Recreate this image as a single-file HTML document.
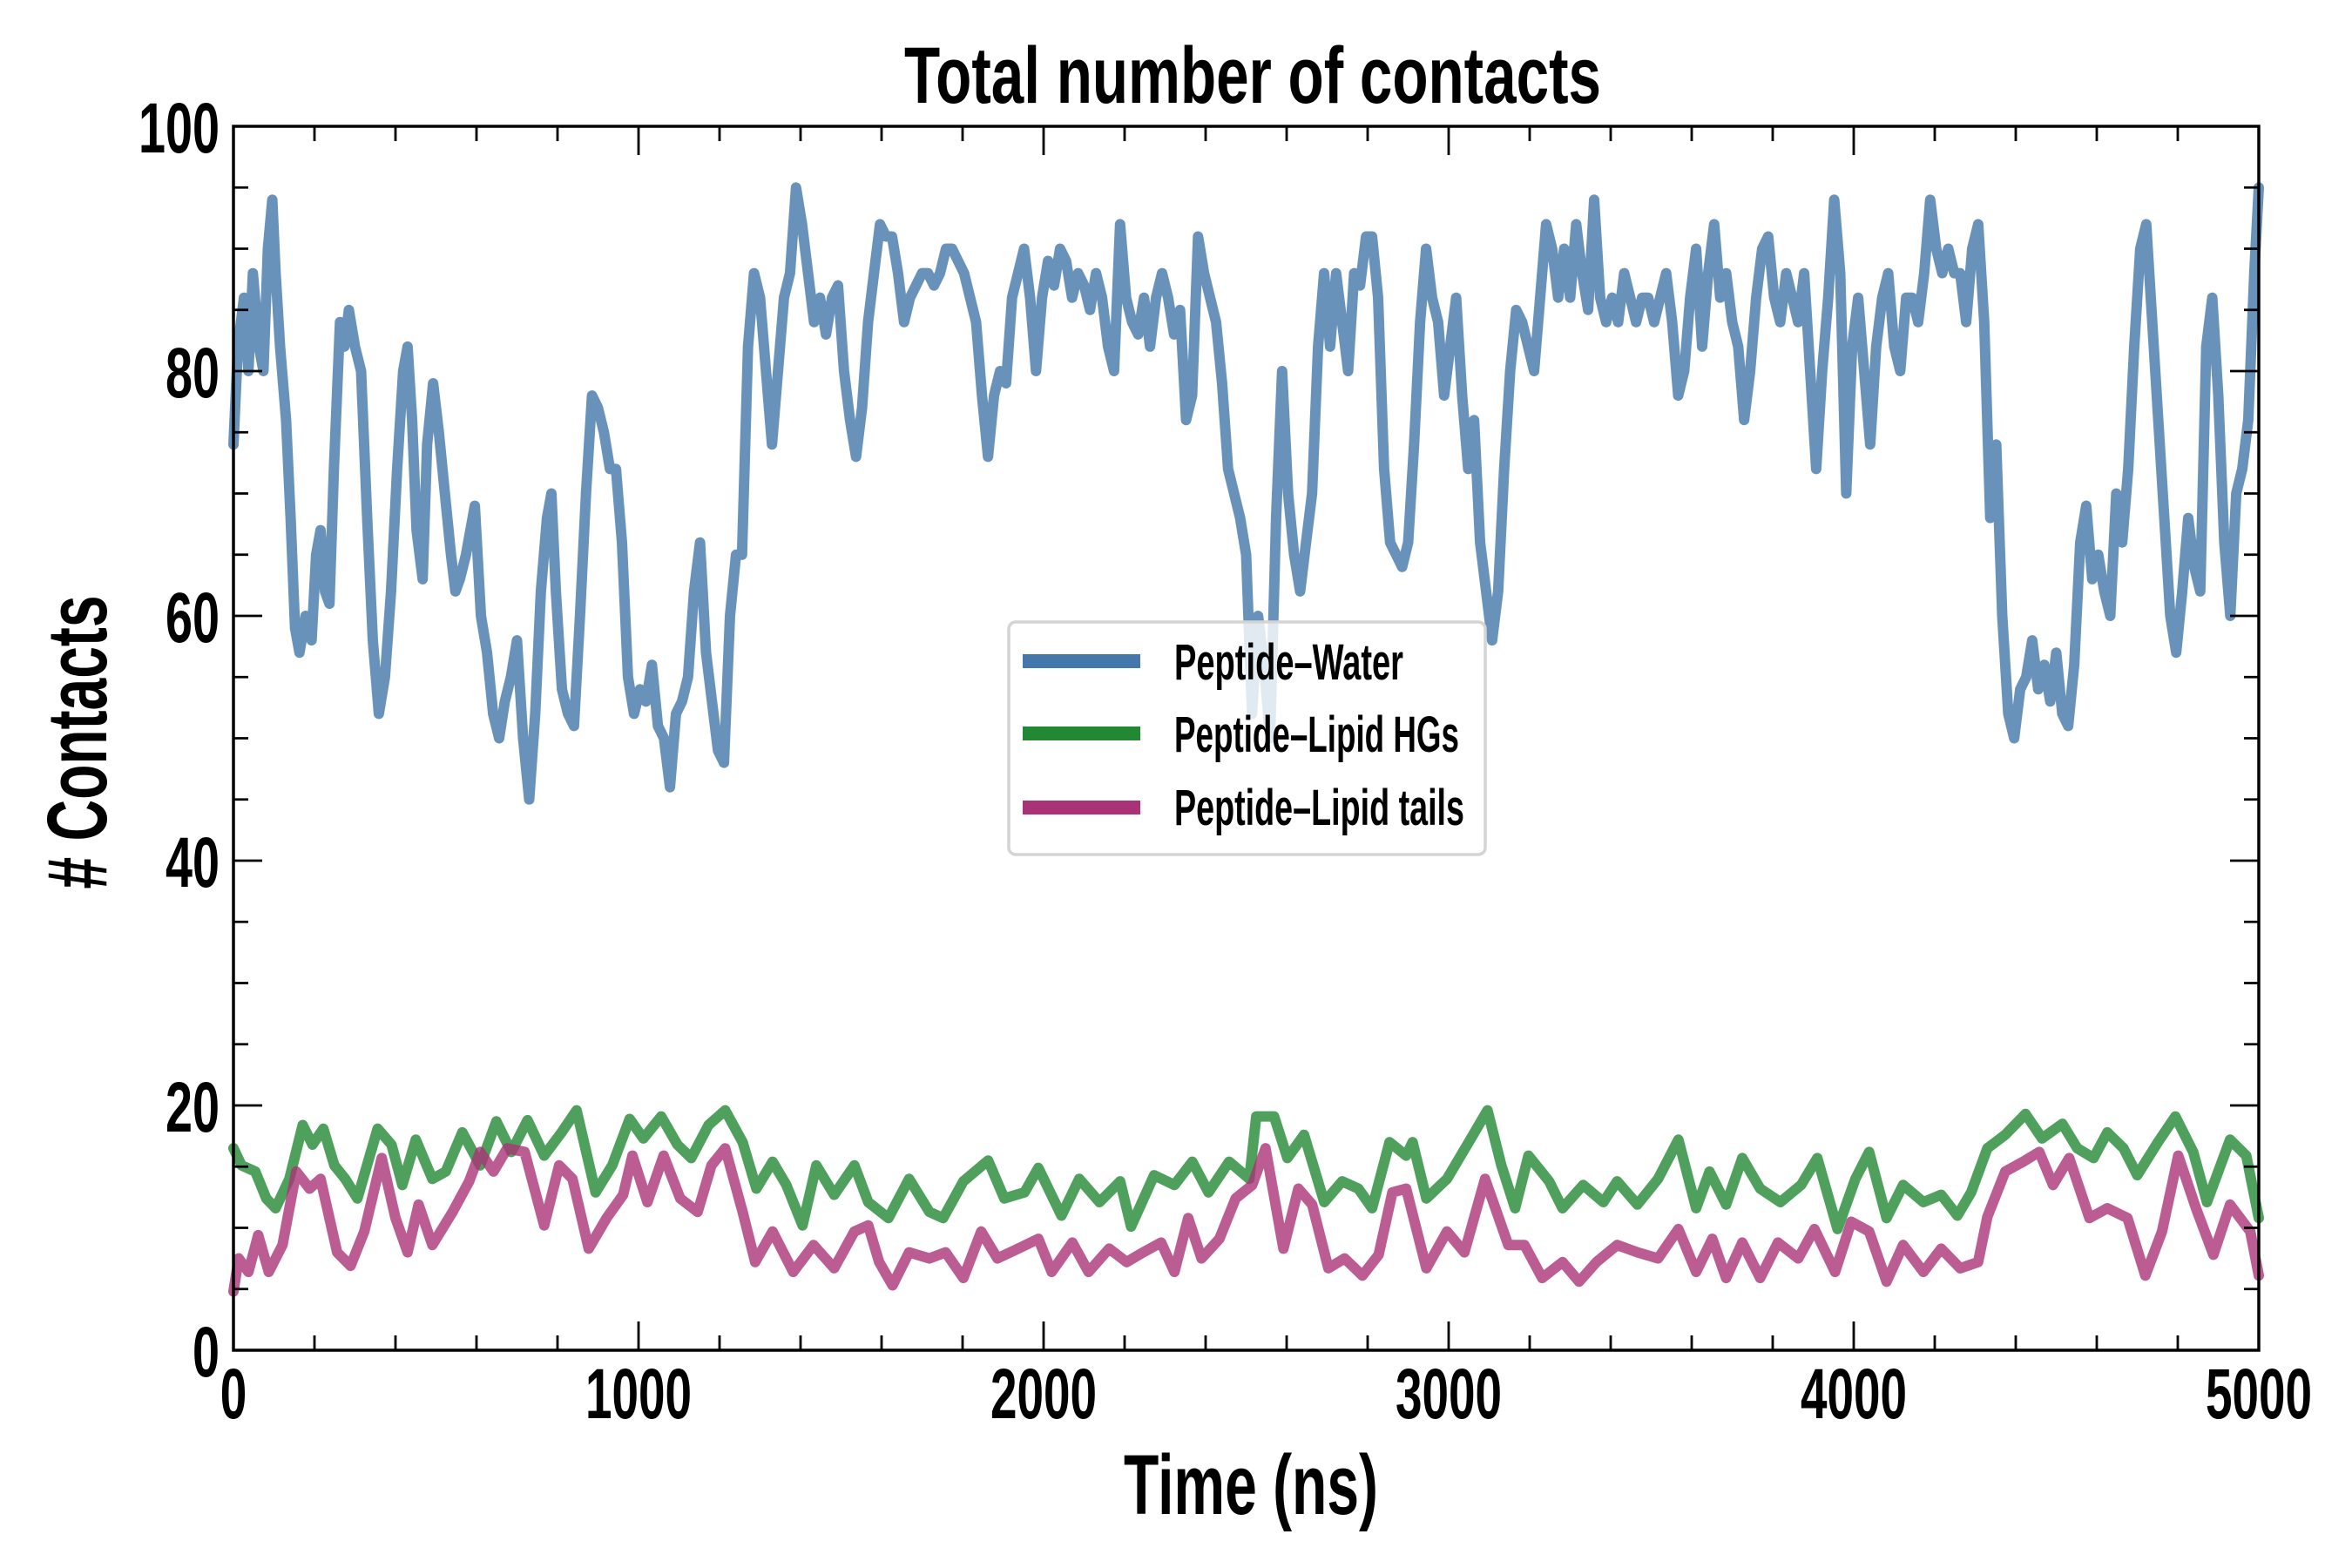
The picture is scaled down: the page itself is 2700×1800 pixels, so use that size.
<!DOCTYPE html>
<html><head><meta charset="utf-8"><style>
html,body{margin:0;padding:0;background:#fff;}
svg{display:block;}
text{font-family:"Liberation Sans",sans-serif;font-weight:bold;fill:#000;}
</style></head>
<body>
<svg id="chart" width="2700" height="1800" viewBox="0 0 2700 1800" xmlns="http://www.w3.org/2000/svg">
<rect x="0" y="0" width="2700" height="1800" fill="#fff"/>
<g id="series"></g>
<g id="ticks"></g>
<rect x="268" y="145" width="2325" height="1405" fill="none" stroke="#000" stroke-width="3.5"/>
<text x="1438" y="118" font-size="92" text-anchor="middle" textLength="800" lengthAdjust="spacingAndGlyphs">Total number of contacts</text>
<text x="1436" y="1738" font-size="97" text-anchor="middle" textLength="292" lengthAdjust="spacingAndGlyphs">Time (ns)</text>
<text x="0" y="0" font-size="97" text-anchor="middle" textLength="337" lengthAdjust="spacingAndGlyphs" transform="translate(122,852) rotate(-90)"># Contacts</text>
<g id="legend">
<rect x="1158" y="714" width="547" height="267" rx="8" fill="#fff" fill-opacity="0.8" stroke="#d4d4d4" stroke-width="3.5"/>
<line x1="1174" y1="759" x2="1309" y2="759" stroke="#4477aa" stroke-width="16"/>
<text x="1348" y="780" font-size="58" textLength="263" lengthAdjust="spacingAndGlyphs">Peptide–Water</text>
<line x1="1174" y1="842" x2="1309" y2="842" stroke="#228833" stroke-width="16"/>
<text x="1348" y="863" font-size="58" textLength="327" lengthAdjust="spacingAndGlyphs">Peptide–Lipid HGs</text>
<line x1="1174" y1="927" x2="1309" y2="927" stroke="#aa3377" stroke-width="16"/>
<text x="1348" y="947" font-size="58" textLength="333" lengthAdjust="spacingAndGlyphs">Peptide–Lipid tails</text>
</g>
</svg>
<script>
const xTickValues = [0, 1000, 2000, 3000, 4000, 5000];
const xTickLabels = ["0", "1000", "2000", "3000", "4000", "5000"];
const yTickValues = [0, 20, 40, 60, 80, 100];
const yTickLabels = ["0", "20", "40", "60", "80", "100"];

const waterStartTimes = [0,11,26,37,48,63,74,85,96,104,115,130,141,152,163,178,193,204,215,226,237,248,263,274,285,300,315,330,344,359,374,389,404,419,430,441,452,467,478,493,507,522,537,548,559,574,585,596,611,626,641,656,670,685,700,715,730,745,759,774,785,796,811];
const waterValues = [74,82,86,80,88,82,80,90,94,88,82,76,68,59,57,60,58,65,67,62,61,72,84,82,85,82,80,68,58,52,55,62,72,80,82,76,67,63,74,79,75,70,65,62,63,65,67,69,60,57,52,50,53,55,58,50,45,52,62,68,70,62,54,52,51,60,70,78,77,75,72,72,66,55,52,54,53,56,51,50,46,52,53,55,62,66,57,53,49,48,60,65,65,82,88,86,80,74,80,86,88,95,92,88,84,86,83,86,87,80,76,73,77,84,88,92,91,91,88,84,86,87,88,88,87,88,90,90,89,88,86,84,78,73,78,80,79,86,88,90,86,80,86,89,87,90,89,86,88,87,85,88,86,82,80,92,86,84,83,86,82,86,88,86,83,85,76,78,91,88,86,84,79,72,70,68,65,52,60,56,50,68,80,70,65,62,66,70,82,88,82,88,84,80,88,87,91,91,86,72,66,65,64,66,74,84,90,86,84,78,82,86,78,72,76,66,62,58,62,72,80,85,84,82,80,86,92,90,86,90,86,92,88,85,94,86,84,86,84,88,86,84,86,86,84,86,88,84,78,80,86,90,82,88,92,86,88,84,82,76,80,86,90,91,86,84,88,86,84,88,80,72,80,86,94,88,70,82,86,80,74,82,86,88,82,80,86,86,84,88,94,90,88,90,88,88,84,90,92,84,68,74,60,52,50,54,55,58,54,56,53,57,52,51,56,66,69,63,65,62,60,70,66,72,82,90,92,84,76,68,60,57,62,68,64,62,82,86,78,66,60,70,72,76,88,95];

const hgTimes = [0,20,54,81,104,138,171,195,222,249,276,306,356,390,417,450,491,524,565,609,649,686,726,767,810,847,894,935,978,1012,1056,1096,1130,1173,1214,1257,1291,1331,1365,1405,1439,1483,1533,1567,1617,1668,1718,1752,1802,1863,1903,1953,1987,2044,2088,2138,2189,2216,2273,2323,2367,2407,2458,2508,2525,2569,2602,2643,2693,2737,2777,2811,2854,2895,2911,2945,2996,3046,3096,3130,3164,3197,3248,3281,3332,3382,3416,3466,3517,3567,3611,3644,3685,3725,3769,3819,3870,3910,3960,4004,4038,4081,4122,4172,4216,4256,4290,4330,4374,4424,4465,4515,4552,4592,4626,4666,4700,4751,4794,4838,4872,4929,4969,5000];
const hgValues = [16.5,15.1,14.6,12.4,11.6,14,18.4,16.8,18.1,15.1,14,12.4,18.1,16.8,13.5,17.2,14,14.6,17.8,15.1,18.7,16.2,18.8,15.9,17.8,19.6,12.9,15.1,18.9,17.3,19.1,16.8,15.7,18.4,19.6,17,13.2,15.4,13.5,10.2,15.1,12.7,15.1,12.1,10.8,14,11.3,10.8,13.8,15.5,12.4,12.9,14.9,11,14,12.1,13.8,10.1,14.3,13.5,15.4,12.9,15.4,14,19.1,19.1,15.7,17.6,12.1,13.8,13.2,11.6,17,15.9,17,12.4,14,16.8,19.6,15.1,11.6,15.9,13.8,11.6,13.5,12.1,13.8,11.9,14,17.2,11.6,14.6,11.9,15.7,13.2,12.1,13.5,15.7,9.9,14,16.2,10.8,13.5,12.1,12.7,11,12.9,16.5,17.6,19.3,17.3,18.5,16.5,15.7,17.8,16.5,14.3,17,19.1,16.2,12.1,17.2,15.9,10.8];

const tailTimes = [0,13,37,61,87,121,155,188,215,256,289,323,366,400,430,457,491,541,582,609,642,676,719,767,804,837,877,921,962,985,1022,1062,1103,1146,1180,1214,1257,1288,1331,1382,1432,1483,1533,1567,1594,1627,1668,1718,1758,1802,1846,1886,1937,1987,2020,2071,2111,2162,2205,2246,2290,2323,2357,2390,2434,2474,2515,2548,2592,2629,2663,2703,2743,2787,2827,2861,2895,2945,2996,3039,3090,3147,3187,3231,3281,3322,3365,3416,3466,3517,3567,3611,3651,3685,3725,3769,3813,3863,3903,3954,3994,4038,4081,4122,4172,4216,4263,4307,4330,4374,4418,4458,4492,4532,4582,4626,4676,4720,4761,4801,4845,4888,4929,4979,5000];
const tailValues = [4.8,7.5,6.4,9.4,6.4,8.6,14.6,13.2,14,8,6.9,9.7,15.7,10.8,8,11.9,8.6,11.3,13.8,16.2,14.6,16.5,16.2,10.2,15.1,14,8.3,10.8,12.7,15.9,12.1,15.9,12.4,11.3,15.1,16.5,11.3,7.2,9.7,6.4,8.6,6.7,9.7,10.2,7.2,5.3,8,7.5,8,5.9,9.7,7.5,8.3,9.1,6.4,8.8,6.4,8.3,7.2,8,8.8,6.4,10.8,7.5,9.1,12.4,13.5,16.5,8.3,13.2,11.9,6.7,7.5,6.1,7.8,12.9,13.2,6.7,9.7,8,14,8.6,8.6,5.9,7.2,5.6,7.2,8.6,8,7.5,9.9,6.4,9.1,5.9,8.8,5.9,8.8,7.5,9.9,6.4,10.5,9.7,5.6,8.6,6.4,8.3,6.7,7.2,10.9,14.6,15.4,16.2,13.5,15.7,10.8,11.6,10.8,6.1,9.7,15.9,11.6,7.8,11.9,9.7,6.1];

const X0 = 268, X1 = 2593, Y0 = 1550, Y1 = 145;
function xScale(t){ return X0 + t / 5000 * (X1 - X0); }
function yScale(v){ return Y0 - v / 100 * (Y0 - Y1); }
const NS = "http://www.w3.org/2000/svg";
const seriesG = document.getElementById('series');
const ticksG = document.getElementById('ticks');

function drawLine(times, values, color, name){
  let d = '';
  for (let i = 0; i < values.length; i++) {
    d += (i ? 'L' : 'M') + xScale(times[i]).toFixed(1) + ',' + yScale(values[i]).toFixed(1);
  }
  const p = document.createElementNS(NS, 'path');
  p.setAttribute('d', d);
  p.setAttribute('fill', 'none');
  p.setAttribute('stroke', color);
  p.setAttribute('stroke-opacity', '0.8');
  p.setAttribute('stroke-width', '12');
  p.setAttribute('stroke-linejoin', 'round');
  p.setAttribute('stroke-linecap', 'round');
  
  
  seriesG.appendChild(p);
}
// sample times: explicit for the first samples, then regular 14.815 ns sampling
const nStart = waterStartTimes.length;
const waterTimes = waterValues.map((v, i) => i < nStart ? waterStartTimes[i] : Math.min(5000, waterStartTimes[nStart - 1] + (i - nStart + 1) * 14.815));
waterTimes[waterTimes.length - 1] = 5000;
drawLine(waterTimes, waterValues, '#4477aa', 'series-peptide-water');
drawLine(hgTimes, hgValues, '#228833', 'series-peptide-lipid-hgs');
drawLine(tailTimes, tailValues, '#aa3377', 'series-peptide-lipid-tails');

function tick(x1, y1, x2, y2){
  const l = document.createElementNS(NS, 'line');
  l.setAttribute('x1', x1); l.setAttribute('y1', y1);
  l.setAttribute('x2', x2); l.setAttribute('y2', y2);
  l.setAttribute('stroke', '#000'); l.setAttribute('stroke-width', '2.8');
  
  
  ticksG.appendChild(l);
}
function label(txt, x, y, anchor, len){
  const t = document.createElementNS(NS, 'text');
  t.textContent = txt;
  t.setAttribute('x', x); t.setAttribute('y', y);
  t.setAttribute('font-size', '82');
  t.setAttribute('text-anchor', anchor);
  t.setAttribute('textLength', len);
  t.setAttribute('lengthAdjust', 'spacingAndGlyphs');
  
  
  ticksG.appendChild(t);
}
for (let t = 0; t <= 5000; t += 200) {
  const x = xScale(t);
  const major = xTickValues.indexOf(t) >= 0;
  const L = major ? 33 : 17;
  tick(x, Y0, x, Y0 - L);
  tick(x, Y1, x, Y1 + L);
}
for (let v = 0; v <= 100; v += 5) {
  const y = yScale(v);
  const major = yTickValues.indexOf(v) >= 0;
  const L = major ? 33 : 17;
  tick(X0, y, X0 + L, y);
  tick(X1, y, X1 - L, y);
}
xTickValues.forEach((t, i) => {
  label(xTickLabels[i], xScale(t), 1628, 'middle', xTickLabels[i].length * 30.5);
});
yTickValues.forEach((v, i) => {
  label(yTickLabels[i], 252, yScale(v) + 30, 'end', yTickLabels[i].length * 31);
});
</script>
</body></html>
